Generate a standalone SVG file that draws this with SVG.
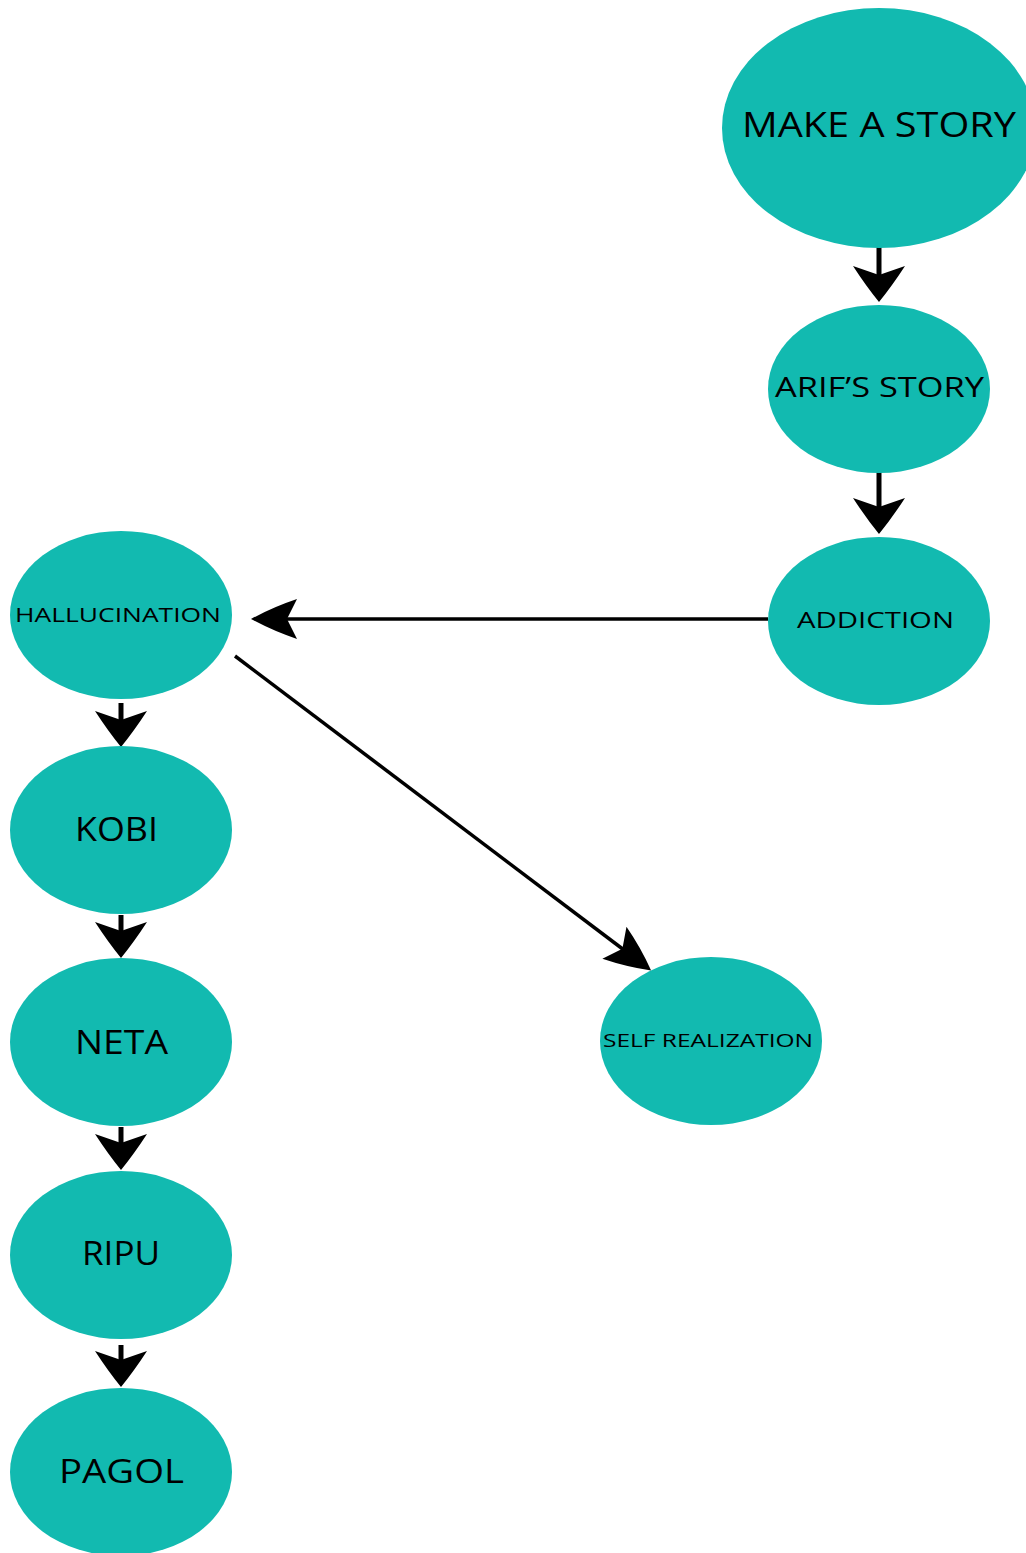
<svg xmlns="http://www.w3.org/2000/svg" width="1026" height="1553" viewBox="0 0 1026 1553">
<style>
.node ellipse{fill:#12BAB0}
.node text{font-family:"Open Sans","Liberation Sans",sans-serif;fill:#000;text-anchor:middle}
.thick{stroke:#000;stroke-width:5;fill:none}
.thin{stroke:#000;stroke-width:3.5;fill:none}
</style>
<defs>
<marker id="big" markerUnits="userSpaceOnUse" viewBox="-40 -30 44 60" markerWidth="44" markerHeight="60" refX="-24" refY="0" orient="auto" overflow="visible">
<path d="M0,0 Q-16,-13 -36,-26 L-27,0 L-36,26 Q-16,13 0,0 Z" fill="#000"/>
</marker>
<marker id="mid" markerUnits="userSpaceOnUse" viewBox="-50 -25 54 50" markerWidth="54" markerHeight="50" refX="-34" refY="0" orient="auto" overflow="visible">
<path d="M0,0 Q-22,-12 -46,-20 L-36,0 L-46,20 Q-22,12 0,0 Z" fill="#000"/>
</marker>
</defs>
<g id="connectors">
<line class="thick" x1="879" y1="238" x2="879" y2="278" marker-end="url(#big)"/>
<line class="thick" x1="879" y1="472" x2="879" y2="510" marker-end="url(#big)"/>
<line class="thin" x1="768" y1="619" x2="285" y2="619" marker-end="url(#mid)"/>
<line class="thin" x1="235" y1="656" x2="624" y2="950" marker-end="url(#mid)"/>
<line class="thick" x1="121" y1="703" x2="121" y2="723" marker-end="url(#big)"/>
<line class="thick" x1="121" y1="915" x2="121" y2="934" marker-end="url(#big)"/>
<line class="thick" x1="121" y1="1127" x2="121" y2="1146" marker-end="url(#big)"/>
<line class="thick" x1="121" y1="1345" x2="121" y2="1363" marker-end="url(#big)"/>
</g>
<g id="make-a-story" class="node"><ellipse cx="879" cy="128" rx="157" ry="120"/><text x="879" y="137" font-size="34" textLength="274" lengthAdjust="spacingAndGlyphs">MAKE A STORY</text></g>
<g id="arifs-story" class="node"><ellipse cx="879" cy="389" rx="111" ry="84"/><text x="879.5" y="397" font-size="28" textLength="209" lengthAdjust="spacingAndGlyphs">ARIF’S STORY</text></g>
<g id="addiction" class="node"><ellipse cx="879" cy="621" rx="111" ry="84"/><text x="875.5" y="628" font-size="22" textLength="157" lengthAdjust="spacingAndGlyphs">ADDICTION</text></g>
<g id="hallucination" class="node"><ellipse cx="121" cy="615" rx="111" ry="84"/><text x="118" y="622" font-size="20" textLength="206" lengthAdjust="spacingAndGlyphs">HALLUCINATION</text></g>
<g id="kobi" class="node"><ellipse cx="121" cy="830" rx="111" ry="84"/><text x="116.5" y="841" font-size="33" textLength="83" lengthAdjust="spacingAndGlyphs">KOBI</text></g>
<g id="neta" class="node"><ellipse cx="121" cy="1042" rx="111" ry="84"/><text x="121.5" y="1054" font-size="32" textLength="93" lengthAdjust="spacingAndGlyphs">NETA</text></g>
<g id="ripu" class="node"><ellipse cx="121" cy="1255" rx="111" ry="84"/><text x="121" y="1265" font-size="33" textLength="78" lengthAdjust="spacingAndGlyphs">RIPU</text></g>
<g id="pagol" class="node"><ellipse cx="121" cy="1472" rx="111" ry="84"/><text x="121.5" y="1483" font-size="33" textLength="125" lengthAdjust="spacingAndGlyphs">PAGOL</text></g>
<g id="self-realization" class="node"><ellipse cx="711" cy="1041" rx="111" ry="84"/><text x="708" y="1047" font-size="19" textLength="210" lengthAdjust="spacingAndGlyphs">SELF REALIZATION</text></g>
</svg>
